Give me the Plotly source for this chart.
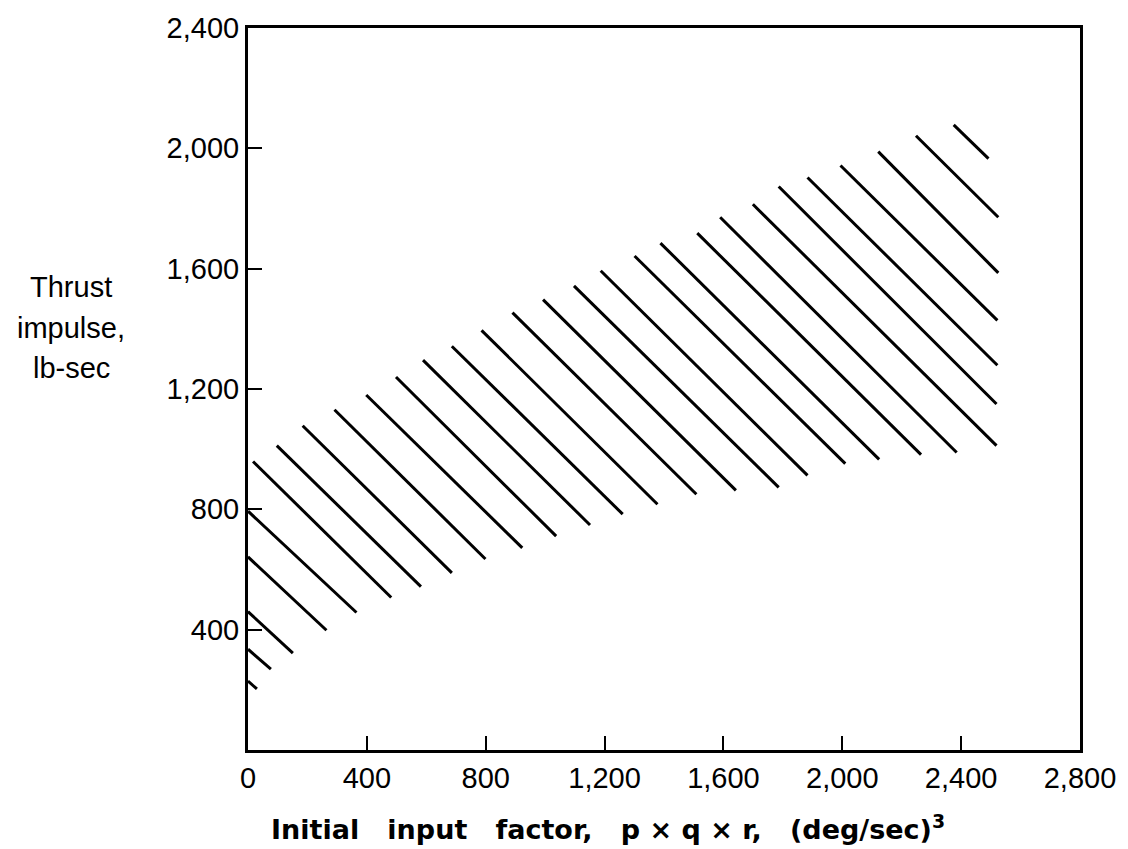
import plotly.graph_objects as go

# Hatch line segments (upper-left start -> lower-right end), data units
x_start = [0, 0, 0, 0, 0, 17, 97, 184, 291, 398, 498, 589, 686, 786, 890,
           993, 1097, 1187, 1301, 1388, 1512, 1589, 1699, 1786, 1883, 1994,
           2121, 2248, 2375]
y_start = [229, 335, 460, 642, 794, 959, 1012, 1078, 1131, 1180, 1240, 1296,
           1342, 1395, 1454, 1497, 1543, 1593, 1642, 1685, 1718, 1771, 1814,
           1873, 1903, 1943, 1989, 2042, 2078]
x_end = [30, 77, 151, 264, 365, 482, 582, 686, 799, 923, 1037, 1151, 1261,
         1378, 1509, 1642, 1786, 1883, 2010, 2124, 2265, 2385, 2519, 2519,
         2522, 2522, 2525, 2525, 2492]
y_end = [203, 269, 322, 398, 457, 507, 543, 589, 635, 672, 711, 748, 784,
         817, 850, 863, 873, 913, 952, 966, 982, 989, 1012, 1150, 1279, 1428,
         1586, 1771, 1966]

x_ticks = [0, 400, 800, 1200, 1600, 2000, 2400, 2800]
x_tick_labels = ["0", "400", "800", "1,200", "1,600", "2,000", "2,400", "2,800"]
y_ticks = [400, 800, 1200, 1600, 2000, 2400]
y_tick_labels = ["400", "800", "1,200", "1,600", "2,000", "2,400"]

x_title = "Initial   input   factor,   p × q × r,   (deg/sec)<sup>3</sup>"
y_title_lines = ["Thrust", "impulse,", "lb-sec"]

xs, ys = [], []
for a, b, c, d in zip(x_start, y_start, x_end, y_end):
    xs += [a, c, None]
    ys += [b, d, None]

FONT = "Liberation Sans"

fig = go.Figure()
fig.add_trace(go.Scatter(x=xs, y=ys, mode="lines",
                         line=dict(color="black", width=3),
                         hoverinfo="skip", showlegend=False))

fig.update_layout(
    width=1128, height=849,
    margin=dict(l=248, r=43, t=22, b=99),
    paper_bgcolor="white", plot_bgcolor="white",
    font=dict(family=FONT, color="black", size=28),
    showlegend=False,
)
fig.update_xaxes(range=[0, 2800], tickvals=x_ticks, ticktext=x_tick_labels,
                 ticks="inside", ticklen=14, tickwidth=2, tickcolor="black",
                 showline=True, linewidth=3, linecolor="black", mirror=True,
                 showgrid=False, zeroline=False,
                 tickfont=dict(family=FONT, size=29, color="black"))
fig.update_yaxes(range=[0, 2400], tickvals=y_ticks, ticktext=y_tick_labels,
                 ticks="inside", ticklen=14, tickwidth=2, tickcolor="black",
                 showline=True, linewidth=3, linecolor="black", mirror=True,
                 showgrid=False, zeroline=False,
                 tickfont=dict(family=FONT, size=29, color="black"))

fig.add_annotation(
    text="<b>" + x_title + "</b>",
    xref="paper", yref="paper", x=0.4325, y=-0.108,
    xanchor="center", yanchor="middle", showarrow=False,
    font=dict(family="DejaVu Sans", size=27, color="black"))

for line_text, py in zip(y_title_lines, [283, 325, 365]):
    fig.add_annotation(
        text=line_text,
        xref="paper", yref="paper", x=-0.2127, y=(749.5 - py) / 727.0,
        xanchor="center", yanchor="middle", showarrow=False,
        font=dict(family=FONT, size=29, color="black"))

fig.write_html("out.html")
